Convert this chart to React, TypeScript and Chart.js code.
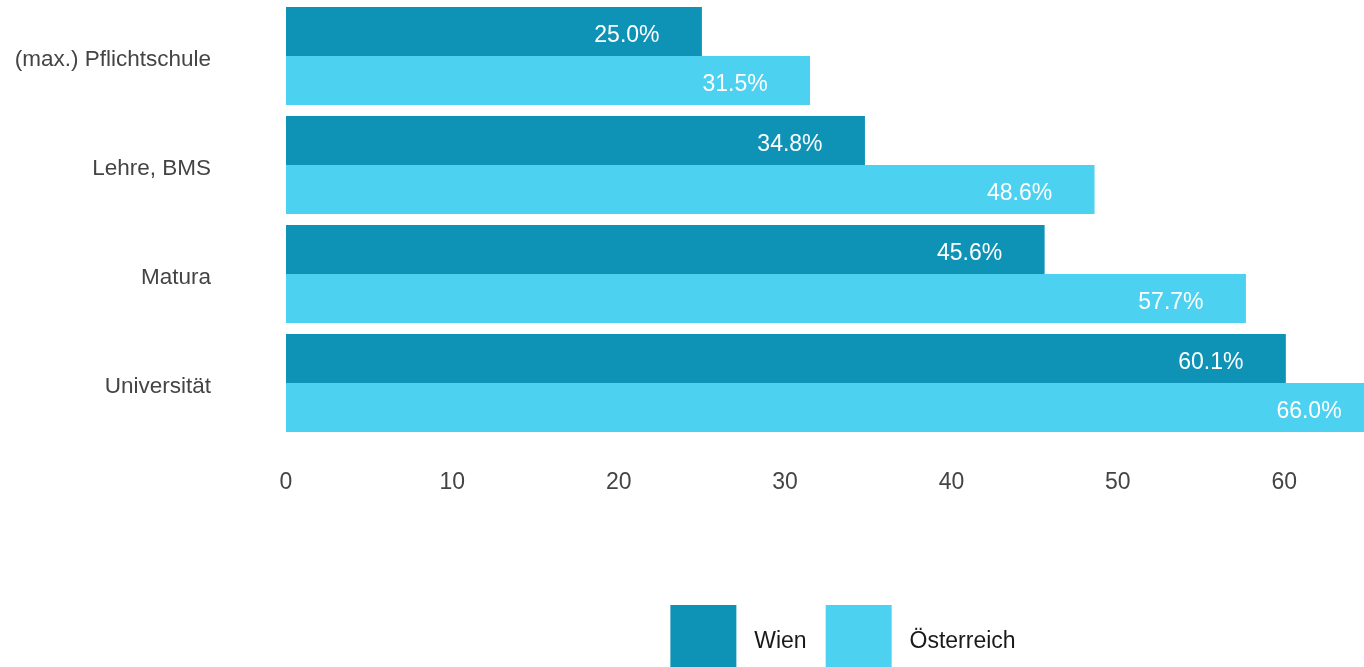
import React, { useEffect, useRef } from "react";
import { Chart, registerables } from "chart.js";

Chart.register(...registerables);

const categories = ["(max.) Pflichtschule", "Lehre, BMS", "Matura", "Universität"];
const seriesNames = ["Wien", "Österreich"];
const wienValues = [25.0, 34.8, 45.6, 60.1];
const oesterreichValues = [31.5, 48.6, 57.7, 66.0];
const seriesColors = ["#0e93b7", "#4dd1f1"];
const xTicks = [0, 10, 20, 30, 40, 50, 60];

const FONT = "'Liberation Sans', Arial, sans-serif";
const FONT_SIZE = 23;
const BOX = 66;

const valueLabels = {
  id: "valueLabels",
  afterDatasetsDraw(chart: any) {
    const ctx = chart.ctx;
    ctx.save();
    ctx.font = `${FONT_SIZE}px ${FONT}`;
    ctx.fillStyle = "#ffffff";
    ctx.textAlign = "center";
    ctx.textBaseline = "middle";
    chart.data.datasets.forEach((ds: any, di: number) => {
      const meta = chart.getDatasetMeta(di);
      meta.data.forEach((bar: any, i: number) => {
        const v = ds.data[i];
        ctx.fillText(v.toFixed(1) + "%", bar.x - 75, bar.y + 4);
      });
    });
    ctx.restore();
  },
};

const legendShift = {
  id: "legendShift",
  afterLayout(chart: any) {
    if (chart.legend) {
      chart.legend.left += 151;
      chart.legend.right += 151;
    }
  },
};

const legendText = {
  id: "legendText",
  afterDraw(chart: any) {
    const legend = chart.legend;
    if (!legend || !legend.legendItems) return;
    const ctx = chart.ctx;
    ctx.save();
    ctx.font = `${FONT_SIZE}px ${FONT}`;
    ctx.fillStyle = "#1a1a1a";
    ctx.textAlign = "left";
    ctx.textBaseline = "middle";
    legend.legendItems.forEach((item: any, i: number) => {
      const hb = legend.legendHitBoxes[i];
      if (!hb) return;
      ctx.fillText(item.text, hb.left + BOX + FONT_SIZE / 2, hb.top + BOX / 2 + 4);
    });
    ctx.restore();
  },
};

export default function App() {
  const ref = useRef<HTMLCanvasElement>(null);
  useEffect(() => {
    if (!ref.current) return;
    const chart = new Chart(ref.current, {
      type: "bar",
      data: {
        labels: categories,
        datasets: [
          {
            label: " " + seriesNames[0],
            data: wienValues,
            backgroundColor: seriesColors[0],
            categoryPercentage: 0.9,
            barPercentage: 1.0,
          },
          {
            label: " " + seriesNames[1],
            data: oesterreichValues,
            backgroundColor: seriesColors[1],
            categoryPercentage: 0.9,
            barPercentage: 1.0,
          },
        ],
      },
      options: {
        indexAxis: "y",
        responsive: false,
        animation: false,
        layout: { padding: { top: 1.5, left: 0, right: 0, bottom: 0 } },
        plugins: {
          tooltip: { enabled: false },
          legend: {
            position: "bottom",
            labels: {
              boxWidth: BOX,
              boxHeight: BOX,
              padding: 19,
              color: "rgba(0,0,0,0)",
              font: { family: FONT, size: FONT_SIZE },
            },
          },
        },
        scales: {
          x: {
            min: 0,
            max: 66,
            grid: { display: false, drawTicks: false },
            border: { display: false },
            afterBuildTicks(scale: any) {
              scale.ticks = xTicks.map((v) => ({ value: v }));
            },
            afterFit(scale: any) {
              scale.height = 148.5;
              scale.paddingLeft = 0;
              scale.paddingRight = 0;
            },
            ticks: {
              padding: 31,
              color: "#444444",
              font: { family: FONT, size: FONT_SIZE },
            },
          },
          y: {
            grid: { display: false, drawTicks: false },
            border: { display: false },
            afterFit(scale: any) {
              scale.width = 286;
              scale.paddingTop = 0;
              scale.paddingBottom = 0;
            },
            ticks: {
              padding: 75,
              labelOffset: 4,
              color: "#444444",
              font: { family: FONT, size: 22.5 },
            },
          },
        },
      },
      plugins: [valueLabels, legendShift, legendText],
    });
    return () => chart.destroy();
  }, []);
  return (
    <div
      style={{
        position: "fixed",
        left: 0,
        top: 0,
        width: 1364,
        height: 667,
        overflow: "hidden",
        background: "#ffffff",
      }}
    >
      <canvas ref={ref} width={1384} height={681} style={{ display: "block" }} />
    </div>
  );
}
